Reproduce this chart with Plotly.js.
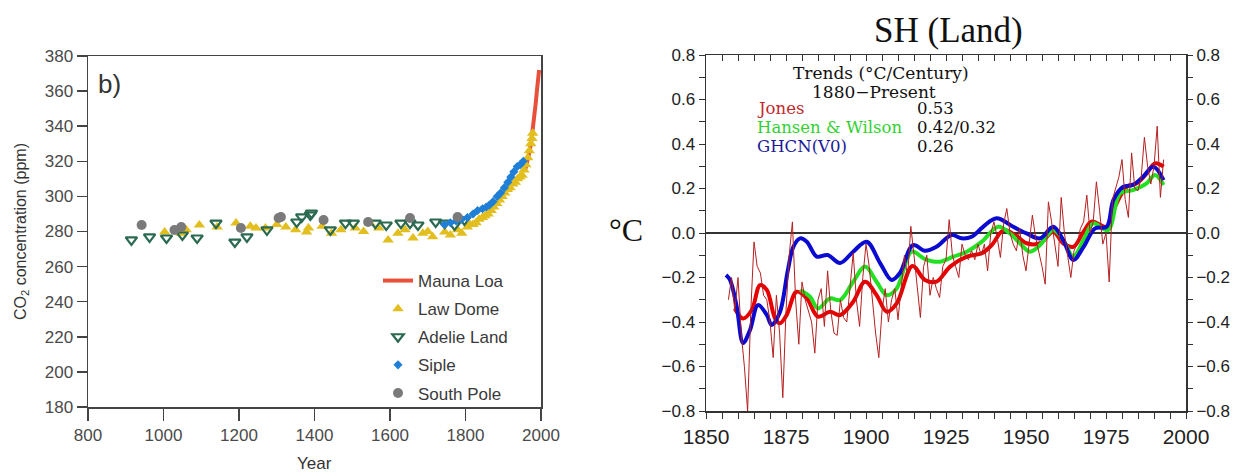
<!DOCTYPE html>
<html><head><meta charset="utf-8">
<script src="https://cdn.plot.ly/plotly-3.0.1.min.js"></script>
<style>html,body{margin:0;padding:0;background:#fff;}#plot{width:1237px;height:473px;}</style>
</head><body><div id="plot"></div>
<script>
// ---------- Left panel: CO2 ----------
const maunaYears = [1958,1962,1966,1970,1974,1978,1982,1986,1990,1995];
const maunaPpm   = [315,318,321,326,331,337,345,353,362,372];

const lawYears = [1003,1047,1060,1095,1142,1192,1230,1245,1270,1300,1324,1350,1379,1384,1420,1445,1470,1508,1530,1547,1570,1595,1621,1640,1661,1687,1700,1713,1745,1760,1779,1790,1805,
  1812,1820,1828,1836,1845,1852,1860,1868,1875,1883,1890,1897,1904,1911,1918,1925,1932,1938,1944,1950,1955,1960,1965,1969,1973,1976,1978];
const lawPpm = [279.7,279,281,283.7,282.6,284.8,283,282,282,284,282.6,281,279.7,282,283,279,281,282,280,284.8,282,275.2,279,281,276.3,279,280,277,279.7,278,281,279,282.6,
  284,284,285,287,288,289,290,292,294,296,298,300,302,304,305,307,308,310,311,312,315,318,322,326,330,333,336];

const adelieYears = [915,963,1008,1050,1089,1139,1189,1221,1274,1353,1366,1389,1392,1442,1482,1503,1561,1590,1629,1653,1674,1721,1745,1771,1797];
const adeliePpm   = [275.2,276.9,276.3,278,276.3,284.8,274,276.9,280.9,285.4,288.3,289.4,290.5,280.9,284.8,284.8,284.8,283.7,284.8,284.8,283.7,285.4,284.8,283.7,286.6];

const sipleYears = [1744,1760,1775,1790,1805,1820,1832,1845,1855,1863,1873,1884,1893,1903,1912,1920,1928,1937,1945,1953];
const siplePpm   = [284,285,286,287,288,290,292,293,294,295,297,300,302,305,308,311,314,317,318,320];

const southYears = [942,1029,1047,1205,1305,1311,1424,1542,1653,1779];
const southPpm   = [283.7,280.9,282.6,282,287.7,288.3,286.6,285.4,287.7,288.3];

const co2Ticks = [180,200,220,240,260,280,300,320,340,360,380];
const yearTicks = [800,1000,1200,1400,1600,1800,2000];

// ---------- Right panel: SH (Land) ----------
const jonesSmYears = [1859,1861.6,1864.3,1866.9,1869,1871.6,1873.1,1875.2,1878.3,1881.5,1885,1888.75,1891.9,1896,1899.7,1903.3,1906.5,1909.6,1914.5,1918.4,1922,1926.3,1931.5,1936.2,1939.3,1943,1946.6,1950.2,1954.4,1958.5,1961.6,1964.8,1968,1970.5,1975.2,1977.8,1981.5,1984.6,1987.7,1990.3,1993];
const jonesSm = [-0.339,-0.384,-0.346,-0.234,-0.256,-0.384,-0.406,-0.369,-0.264,-0.294,-0.376,-0.354,-0.369,-0.309,-0.219,-0.279,-0.354,-0.316,-0.148,-0.211,-0.219,-0.151,-0.106,-0.091,-0.054,0.013,-0.009,-0.046,-0.046,0.006,-0.046,-0.062,0.006,0.051,0.028,0.118,0.208,0.223,0.268,0.313,0.298];

const hansenYears = [1879.4,1882.5,1885,1888.75,1891.9,1896,1899.7,1903.3,1906.5,1909.6,1914.3,1918.4,1923,1927.3,1931.5,1936.2,1941.3,1945,1948.1,1951.25,1954.4,1958.5,1961.6,1964.8,1968,1971,1975.6,1979.4,1983.4,1987.7,1990.3,1993];
const hansenSm = [-0.256,-0.286,-0.339,-0.294,-0.301,-0.219,-0.151,-0.219,-0.279,-0.249,-0.084,-0.117,-0.129,-0.106,-0.084,-0.039,0.028,-0.002,-0.046,-0.084,-0.054,0.013,-0.031,-0.106,-0.031,0.043,0.013,0.178,0.193,0.223,0.261,0.216];

const ghcnYears = [1856.25,1857.5,1859.6,1861.6,1863.75,1866.25,1869,1870.5,1873,1875.6,1877.3,1879.4,1881.5,1884.6,1888,1891.9,1896,1900.2,1904.4,1908,1910.6,1914.7,1918.4,1922,1926.8,1929.9,1933,1936.6,1940.8,1946,1950.2,1954.4,1958.5,1961.6,1964.8,1968,1971.6,1975.2,1977.3,1980.4,1983.4,1986.6,1989.8,1993];
const ghcnSm = [-0.189,-0.211,-0.331,-0.494,-0.436,-0.324,-0.368,-0.413,-0.36,-0.166,-0.062,-0.024,-0.039,-0.106,-0.099,-0.135,-0.084,-0.039,-0.135,-0.211,-0.18,-0.054,-0.08,-0.062,-0.009,-0.024,-0.017,0.028,0.066,0.028,-0.002,-0.024,0.028,-0.031,-0.121,-0.062,0.021,0.028,0.148,0.208,0.216,0.253,0.298,0.238];

const annualYears = [];
for (let y = 1857; y <= 1993; y++) annualYears.push(y);
const annualJones = [
 -0.30,-0.20,-0.35,-0.20,-0.45,-0.60,-0.80,-0.35,-0.04,-0.15, // 1857-1866
 -0.18,-0.28,-0.30,-0.40,-0.56,-0.28,-0.45,-0.74,-0.35,-0.10, // 1867-1876
  0.05,-0.30,-0.50,-0.22,-0.30,-0.35,-0.40,-0.54,-0.30,-0.25, // 1877-1886
 -0.42,-0.17,-0.35,-0.45,-0.46,-0.30,-0.38,-0.40,-0.25,-0.09, // 1887-1896
 -0.30,-0.42,-0.20,-0.05,-0.15,-0.30,-0.45,-0.56,-0.35,-0.25, // 1897-1906
 -0.40,-0.30,-0.25,-0.39,-0.25,-0.10,-0.20, 0.03,-0.10,-0.25, // 1907-1916
 -0.38,-0.15,-0.10,-0.28,-0.20,-0.25,-0.29,-0.15,-0.12, 0.06, // 1917-1926
 -0.10,-0.15,-0.20,-0.05,-0.10,-0.12,-0.08,-0.12,-0.05,-0.10, // 1927-1936
 -0.05,-0.17, 0.00, 0.05,-0.02,-0.11, 0.04, 0.11, 0.00,-0.05, // 1937-1946
 -0.08, 0.02,-0.10,-0.17,-0.05, 0.08,-0.02,-0.08,-0.15,-0.23, // 1947-1956
  0.14, 0.05,-0.05,-0.15, 0.16, 0.00,-0.10,-0.20,-0.08,-0.05, // 1957-1966
  0.02, 0.05, 0.17, 0.00, 0.05, 0.23, 0.10,-0.05, 0.00,-0.22, // 1967-1976
  0.15, 0.20, 0.25, 0.33, 0.15, 0.07, 0.36, 0.20, 0.19, 0.25, // 1977-1986
  0.43, 0.30, 0.22, 0.30, 0.48, 0.16, 0.33                    // 1987-1993
];

const shYTicks = [-0.8,-0.6,-0.4,-0.2,0.0,0.2,0.4,0.6,0.8];

const W = 1237, H = 473;
const px = v => v / W;
const py = v => 1 - v / H;

const traces = [
  {x: maunaYears, y: maunaPpm, name: 'Mauna Loa', type: 'scatter', mode: 'lines', line: {color: '#e8503a', width: 4}, xaxis: 'x', yaxis: 'y', legendgroup: 'a'},
  {x: lawYears, y: lawPpm, name: 'Law Dome', type: 'scatter', mode: 'markers', marker: {symbol: 'triangle-up', color: '#e2be1e', size: 10, line: {width: 0}}, xaxis: 'x', yaxis: 'y', legendgroup: 'b'},
  {x: adelieYears, y: adeliePpm, name: 'Adelie Land', type: 'scatter', mode: 'markers', marker: {symbol: 'triangle-down-open', color: '#2b6a50', size: 10, line: {width: 2.2, color: '#2b6a50'}}, xaxis: 'x', yaxis: 'y', legendgroup: 'c'},
  {x: sipleYears, y: siplePpm, name: 'Siple', type: 'scatter', mode: 'markers', marker: {symbol: 'diamond', color: '#1f7fd6', size: 7}, xaxis: 'x', yaxis: 'y', legendgroup: 'd'},
  {x: southYears, y: southPpm, name: 'South Pole', type: 'scatter', mode: 'markers', marker: {symbol: 'circle', color: '#7a7a7a', size: 10}, xaxis: 'x', yaxis: 'y', legendgroup: 'e'},

  {x: annualYears, y: annualJones, name: 'Jones annual', type: 'scatter', mode: 'lines', line: {color: '#b52020', width: 1}, xaxis: 'x3', yaxis: 'y3', showlegend: false},
  {x: jonesSmYears, y: jonesSm, name: 'Jones', type: 'scatter', mode: 'lines', line: {color: '#e80000', width: 4, shape: 'spline'}, xaxis: 'x2', yaxis: 'y2', showlegend: false},
  {x: hansenYears, y: hansenSm, name: 'Hansen & Wilson', type: 'scatter', mode: 'lines', line: {color: '#22e022', width: 4, shape: 'spline'}, xaxis: 'x2', yaxis: 'y2', showlegend: false},
  {x: ghcnYears, y: ghcnSm, name: 'GHCN(V0)', type: 'scatter', mode: 'lines', line: {color: '#0a0ad0', width: 4, shape: 'spline'}, xaxis: 'x2', yaxis: 'y2', showlegend: false}
];

const sansTick = {family: 'Liberation Sans, Arial, sans-serif', size: 17, color: '#4a4a4a'};
const shTick = {family: 'Liberation Sans, Arial, sans-serif', size: 17, color: '#222'};
const serifSmall = 'DejaVu Serif, serif';

const layout = {
  width: W, height: H,
  margin: {l: 0, r: 0, t: 0, b: 0},
  paper_bgcolor: '#fff', plot_bgcolor: 'rgba(0,0,0,0)',
  showlegend: true,
  legend: {x: px(378), y: py(263), xanchor: 'left', yanchor: 'top', bgcolor: 'rgba(0,0,0,0)',
           font: {family: 'Liberation Sans, Arial, sans-serif', size: 17, color: '#3a3a3a'},
           tracegroupgap: 3, itemwidth: 30},
  xaxis: {domain: [px(88), px(541)], range: [800, 2000], tickvals: yearTicks, ticks: 'outside', ticklen: 12, tickwidth: 1.5,
          tickcolor: '#444', showline: true, linecolor: '#444', linewidth: 1.5, mirror: true, showgrid: false, zeroline: false,
          tickfont: sansTick, anchor: 'y', fixedrange: true},
  yaxis: {domain: [py(407), py(56)], range: [180, 380], tickvals: co2Ticks, ticks: 'outside', ticklen: 10, tickwidth: 1.5,
          tickcolor: '#444', showline: true, linecolor: '#444', linewidth: 1.5, mirror: true, showgrid: false, zeroline: false,
          tickfont: sansTick, anchor: 'x', fixedrange: true},

  xaxis2: {domain: [px(706), px(1186)], range: [1850, 2000], dtick: 25, tick0: 1850, ticks: 'outside', ticklen: 6, tickwidth: 1,
           tickcolor: '#333', showline: true, linecolor: '#333', linewidth: 1.5, mirror: true, showgrid: false, zeroline: false,
           minor: {dtick: 5, ticks: 'outside', ticklen: 6, tickcolor: '#333'},
           tickfont: {family: 'Liberation Sans, Arial, sans-serif', size: 21, color: '#222'}, anchor: 'y2', fixedrange: true},
  yaxis2: {domain: [py(411), py(55)], range: [-0.8, 0.8], tickvals: shYTicks, tickformat: '.1f', ticks: 'outside', ticklen: 6, tickwidth: 1,
           tickcolor: '#333', showline: true, linecolor: '#333', linewidth: 1.5, mirror: true, showgrid: false,
           zeroline: true, zerolinecolor: '#333', zerolinewidth: 1.2,
           minor: {dtick: 0.1, ticks: 'outside', ticklen: 6, tickcolor: '#333'},
           tickfont: shTick, anchor: 'x2', fixedrange: true},
  xaxis3: {overlaying: 'x2', side: 'top', range: [1850, 2000], dtick: 5, tick0: 1850, ticks: 'inside', ticklen: 6, tickcolor: '#333',
           showticklabels: false, showline: false, showgrid: false, zeroline: false, anchor: 'y2', fixedrange: true},
  yaxis3: {overlaying: 'y2', side: 'right', range: [-0.8, 0.8], tickvals: shYTicks, tickformat: '.1f', ticks: 'outside', ticklen: 6, tickcolor: '#333',
           minor: {dtick: 0.1, ticks: 'outside', ticklen: 6, tickcolor: '#333'},
           showline: false, showgrid: false, zeroline: false, tickfont: shTick, anchor: 'x2', fixedrange: true},

  annotations: [
    {text: 'b)', x: px(96), y: py(84), xref: 'paper', yref: 'paper', xanchor: 'left', yanchor: 'middle', showarrow: false,
     font: {family: 'Liberation Sans, Arial, sans-serif', size: 26, color: '#333'}},
    {text: 'Year', x: px(314), y: py(463), xref: 'paper', yref: 'paper', xanchor: 'center', yanchor: 'middle', showarrow: false,
     font: {family: 'Liberation Sans, Arial, sans-serif', size: 17, color: '#333'}},
    {text: 'CO<sub>2</sub> concentration (ppm)', x: px(21), y: py(232), xref: 'paper', yref: 'paper', xanchor: 'center', yanchor: 'middle',
     showarrow: false, textangle: -90, font: {family: 'Liberation Sans, Arial, sans-serif', size: 16, color: '#333'}},

    {text: 'SH (Land)', x: px(948), y: py(31), xref: 'paper', yref: 'paper', xanchor: 'center', yanchor: 'middle', showarrow: false,
     font: {family: 'Liberation Serif, Times New Roman, serif', size: 35, color: '#111'}},
    {text: '°C', x: px(626), y: py(230), xref: 'paper', yref: 'paper', xanchor: 'center', yanchor: 'middle', showarrow: false,
     font: {family: 'Liberation Serif, Times New Roman, serif', size: 32, color: '#111'}},
    {text: 'Trends (°C/Century)', x: px(881), y: py(73), xref: 'paper', yref: 'paper', xanchor: 'center', yanchor: 'middle', showarrow: false,
     font: {family: serifSmall, size: 17, color: '#111'}},
    {text: '1880−Present', x: px(874), y: py(92), xref: 'paper', yref: 'paper', xanchor: 'center', yanchor: 'middle', showarrow: false,
     font: {family: serifSmall, size: 17, color: '#111'}},
    {text: 'Jones', x: px(755), y: py(109), xref: 'paper', yref: 'paper', xanchor: 'left', yanchor: 'middle', showarrow: false,
     font: {family: serifSmall, size: 16.5, color: '#c0282c'}},
    {text: 'Hansen & Wilson', x: px(755), y: py(128), xref: 'paper', yref: 'paper', xanchor: 'left', yanchor: 'middle', showarrow: false,
     font: {family: serifSmall, size: 16.5, color: '#33d033'}},
    {text: 'GHCN(V0)', x: px(755), y: py(147), xref: 'paper', yref: 'paper', xanchor: 'left', yanchor: 'middle', showarrow: false,
     font: {family: serifSmall, size: 16.5, color: '#1a1a99'}},
    {text: '0.53', x: px(915), y: py(109), xref: 'paper', yref: 'paper', xanchor: 'left', yanchor: 'middle', showarrow: false,
     font: {family: serifSmall, size: 16.5, color: '#111'}},
    {text: '0.42/0.32', x: px(915), y: py(128), xref: 'paper', yref: 'paper', xanchor: 'left', yanchor: 'middle', showarrow: false,
     font: {family: serifSmall, size: 16.5, color: '#111'}},
    {text: '0.26', x: px(915), y: py(147), xref: 'paper', yref: 'paper', xanchor: 'left', yanchor: 'middle', showarrow: false,
     font: {family: serifSmall, size: 16.5, color: '#111'}}
  ]
};

Plotly.newPlot('plot', traces, layout, {staticPlot: true, displayModeBar: false});
</script>
</body></html>
